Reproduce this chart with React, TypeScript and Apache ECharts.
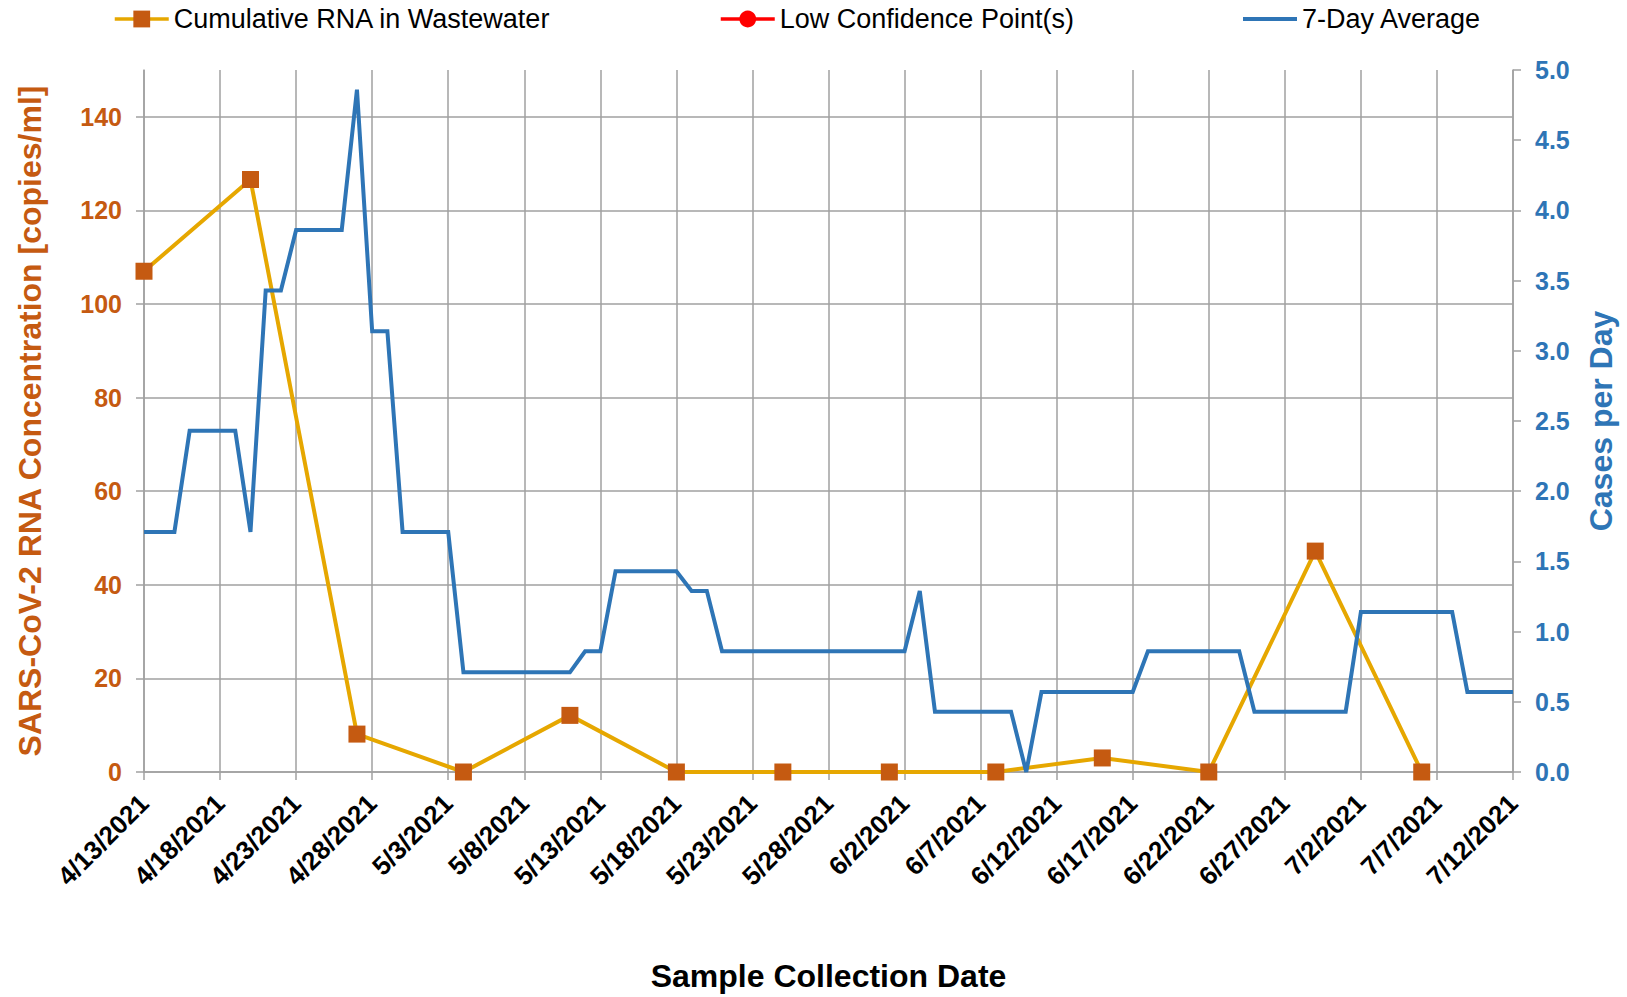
import React, { useEffect, useRef } from "react";
import * as echarts from "echarts";

// ---- Data ----
const startYear = 2021;
const startMonth = 3; // April (0-based)
const startDay = 13;
const dayCount = 91;
const categories: string[] = Array.from({ length: dayCount }, (_, i) => {
  const d = new Date(startYear, startMonth, startDay + i);
  return `${d.getMonth() + 1}/${d.getDate()}/${d.getFullYear()}`;
});

const sampleDates = [
  "4/13/2021", "4/20/2021", "4/27/2021", "5/4/2021", "5/11/2021", "5/18/2021", "5/25/2021",
  "6/1/2021", "6/8/2021", "6/15/2021", "6/22/2021", "6/29/2021", "7/6/2021",
];
const rnaValues = [107, 126.6, 8.1, 0, 12.1, 0, 0, 0, 0, 3, 0, 47.2, 0];

const lowConfidencePoints: [string, number][] = [];

const sevenDayAvg = [
  1.71, 1.71, 1.71, 2.43, 2.43, 2.43, 2.43, 1.71, 3.43, 3.43,
  3.86, 3.86, 3.86, 3.86, 4.86, 3.14, 3.14, 1.71, 1.71, 1.71,
  1.71, 0.71, 0.71, 0.71, 0.71, 0.71, 0.71, 0.71, 0.71, 0.86,
  0.86, 1.43, 1.43, 1.43, 1.43, 1.43, 1.29, 1.29, 0.86, 0.86,
  0.86, 0.86, 0.86, 0.86, 0.86, 0.86, 0.86, 0.86, 0.86, 0.86,
  0.86, 1.29, 0.43, 0.43, 0.43, 0.43, 0.43, 0.43, 0, 0.57,
  0.57, 0.57, 0.57, 0.57, 0.57, 0.57, 0.86, 0.86, 0.86, 0.86,
  0.86, 0.86, 0.86, 0.43, 0.43, 0.43, 0.43, 0.43, 0.43, 0.43,
  1.14, 1.14, 1.14, 1.14, 1.14, 1.14, 1.14, 0.57, 0.57, 0.57,
  0.57,
];

const seriesNames = ["Cumulative RNA in Wastewater", "Low Confidence Point(s)", "7-Day Average"];

const FONT = "'Liberation Sans', Arial, sans-serif";
const GRID = "#a0a0a0";
const ORANGE = "#C55A11";
const GOLD = "#E6A700";
const BLUE = "#2E75B6";
const RED = "#FF0000";

export default function App() {
  const ref = useRef<HTMLDivElement>(null);
  useEffect(() => {
    if (!ref.current) return;
    const chart = echarts.init(ref.current, undefined, { renderer: "svg" });
    const legendText = { fontFamily: FONT, fontSize: 27, color: "#000", lineHeight: 30 };
    const option: any = {
      animation: false,
      backgroundColor: "#fff",
      legend: [
        {
          data: [seriesNames[0]], left: 113, top: 4, padding: 0,
          itemWidth: 54, itemHeight: 21, textStyle: legendText,
          lineStyle: { width: 3.5 },
        },
        {
          data: [seriesNames[1]], left: 719, top: 4, padding: 0,
          itemWidth: 54, itemHeight: 21, textStyle: legendText,
          lineStyle: { width: 3.5 },
        },
        {
          data: [{ name: seriesNames[2], icon: "rect" }], left: 1243, top: 4, padding: 0,
          itemWidth: 54, itemHeight: 4, textStyle: legendText,
        },
      ],
      grid: { left: 144, right: 114, top: 70, bottom: 225 },
      xAxis: {
        type: "category",
        data: categories,
        boundaryGap: false,
        axisLine: { show: true, lineStyle: { color: GRID, width: 1.5 } },
        axisTick: { show: true, interval: 4, length: 8, lineStyle: { color: GRID, width: 1.5 } },
        axisLabel: {
          interval: 4, rotate: 45, margin: 27,
          fontFamily: FONT, fontSize: 26, fontWeight: "bold", color: "#000",
        },
        splitLine: { show: true, interval: 4, lineStyle: { color: GRID, width: 1.5 } },
        name: "Sample Collection Date",
        nameLocation: "middle",
        nameGap: 188,
        nameTextStyle: { fontFamily: FONT, fontSize: 32, fontWeight: "bold", color: "#000" },
      },
      yAxis: [
        {
          type: "value", position: "left", min: 0, max: 150, interval: 20,
          axisLine: { show: true, lineStyle: { color: GRID, width: 1.5 } },
          axisTick: { show: true, length: 8, lineStyle: { color: GRID, width: 1.5 } },
          axisLabel: {
            showMaxLabel: false, margin: 22,
            fontFamily: FONT, fontSize: 25, fontWeight: "bold", color: ORANGE,
          },
          splitLine: { show: true, showMaxLine: false, lineStyle: { color: GRID, width: 1.5 } },
          name: "SARS-CoV-2 RNA Concentration [copies/ml]",
          nameLocation: "middle", nameRotate: 90, nameGap: 98,
          nameTextStyle: { fontFamily: FONT, fontSize: 32, fontWeight: "bold", color: ORANGE },
        },
        {
          type: "value", position: "right", min: 0, max: 5, interval: 0.5,
          axisLine: { show: true, lineStyle: { color: GRID, width: 1.5 } },
          axisTick: { show: true, length: 8, lineStyle: { color: GRID, width: 1.5 } },
          axisLabel: {
            margin: 22, formatter: (v: number) => v.toFixed(1),
            fontFamily: FONT, fontSize: 25, fontWeight: "bold", color: BLUE,
          },
          splitLine: { show: false },
          name: "Cases per Day",
          nameLocation: "middle", nameRotate: 90, nameGap: 72,
          nameTextStyle: { fontFamily: FONT, fontSize: 32, fontWeight: "bold", color: BLUE },
        },
      ],
      series: [
        {
          name: seriesNames[0], type: "line", yAxisIndex: 0,
          data: sampleDates.map((d, i) => [d, rnaValues[i]]),
          symbol: "rect", symbolSize: 17, showAllSymbol: true,
          lineStyle: { color: GOLD, width: 4 },
          itemStyle: { color: ORANGE },
          z: 3,
        },
        {
          name: seriesNames[1], type: "line", yAxisIndex: 0,
          data: lowConfidencePoints,
          symbol: "circle", symbolSize: 14,
          lineStyle: { color: RED, width: 4 },
          itemStyle: { color: RED },
          z: 3,
        },
        {
          name: seriesNames[2], type: "line", yAxisIndex: 1,
          data: sevenDayAvg,
          symbol: "none",
          lineStyle: { color: BLUE, width: 4, join: "miter" },
          itemStyle: { color: BLUE },
          z: 4,
        },
      ],
    };
    chart.setOption(option);
    return () => chart.dispose();
  }, []);
  return (
    <div
      ref={ref}
      style={{ position: "fixed", left: 0, top: 0, width: 1627, height: 997, background: "#fff" }}
    />
  );
}
